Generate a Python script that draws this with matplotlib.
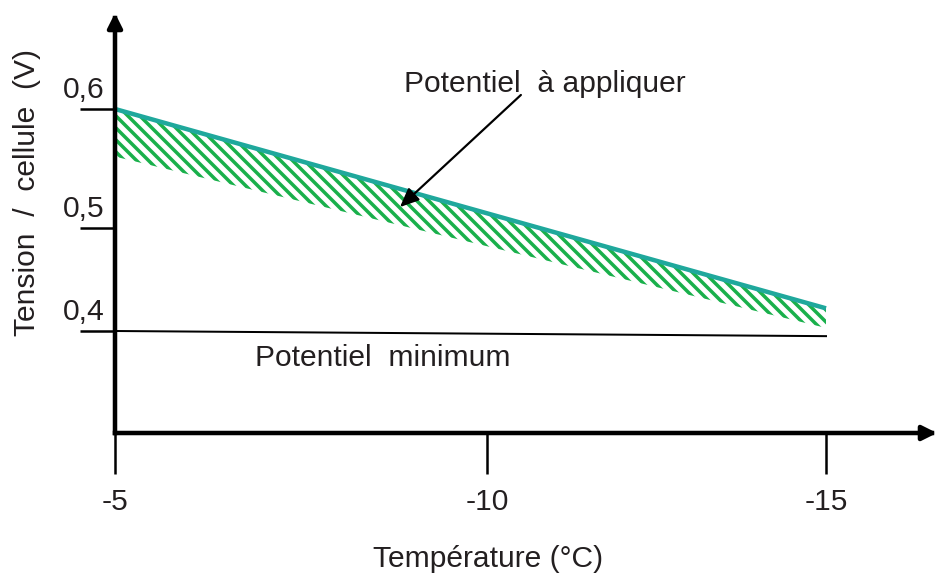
import numpy as np
import matplotlib
matplotlib.use("Agg")
import matplotlib.pyplot as plt

# temperature (°C) and cell voltage (V)
temp = [-5, -15]
applied_top = [0.600, 0.422]
applied_low = [0.560, 0.403]
minimum = [0.400, 0.395]

x_ticks = [-5, -10, -15]
x_labels = ["-5", "-10", "-15"]
y_ticks = [0.4, 0.5, 0.6]
y_labels = ["0,4", "0,5", "0,6"]

# the hand-drawn axes are not evenly spaced: pin each tick to where it sits
X_TICK_PX = [826, 487, 115]  # for -15, -10, -5
Y_TICK_PX = [331, 228, 109]  # for 0.4, 0.5, 0.6

W, H = 937, 574
TEXT = "#231f20"
TEAL = "#1fa89c"
GREEN = "#19b04b"

plt.rcParams["font.family"] = ["Liberation Sans", "DejaVu Sans"]
plt.rcParams["font.size"] = 30
plt.rcParams["hatch.linewidth"] = 3.5
plt.rcParams["hatch.color"] = GREEN


def anchored_scale(values, positions):
    """Piecewise-linear scale through the tick anchors, extended at both ends."""
    v = np.asarray(values, float)
    p = np.asarray(positions, float)
    lo = (p[1] - p[0]) / (v[1] - v[0])
    hi = (p[-1] - p[-2]) / (v[-1] - v[-2])
    v_ext = np.r_[v[0] - 100, v, v[-1] + 100]
    p_ext = np.r_[p[0] - 100 * lo, p, p[-1] + 100 * hi]
    return (lambda a: np.interp(a, v_ext, p_ext),
            lambda a: np.interp(a, p_ext, v_ext))


fig = plt.figure(figsize=(W / 72, H / 72), dpi=72)
ax = fig.add_axes([115 / W, (H - 433) / H, (W - 115) / W, (433 - 13) / H])

x_fwd, x_inv = anchored_scale(x_ticks[::-1], [-p for p in X_TICK_PX])
y_fwd, y_inv = anchored_scale(y_ticks, [-p for p in Y_TICK_PX])
ax.set_xscale("function", functions=(x_fwd, x_inv))
ax.set_yscale("function", functions=(y_fwd, y_inv))
ax.set_xlim(-5, float(x_inv(-W)))
ax.set_ylim(float(y_inv(-433)), float(y_inv(-13)))

# hatched band of the applied potential
ax.fill_between(temp, applied_low, applied_top, facecolor="none",
                edgecolor=GREEN, linewidth=0, hatch="\\\\")
ax.plot(temp, applied_top, color=TEAL, lw=4.5, solid_capstyle="butt")
ax.plot(temp, minimum, color="black", lw=2)

# axes with arrow heads
for end in [(1, 0), (0, 1)]:
    ax.annotate("", xy=end, xytext=(0, 0), xycoords="axes fraction",
                annotation_clip=False,
                arrowprops=dict(arrowstyle="-|>,head_length=0.6,head_width=0.3",
                                lw=4.5, color="black", shrinkA=0, shrinkB=0,
                                mutation_scale=20, capstyle="projecting"))
for s in ax.spines.values():
    s.set_visible(False)

ax.set_xticks(x_ticks, labels=x_labels)
ax.set_yticks(y_ticks)
ax.tick_params(axis="x", direction="out", length=41, width=2.5, pad=14,
               colors="black", labelcolor=TEXT)
ax.tick_params(axis="y", direction="out", length=35, width=2.5,
               labelleft=False, colors="black")
ax.minorticks_off()

for v, lab in zip(y_ticks, y_labels):
    ax.annotate(lab, xy=(0, v), xycoords=("axes fraction", "data"),
                xytext=(-10, 11), textcoords="offset pixels",
                ha="right", va="baseline", color=TEXT, annotation_clip=False)

# annotations
ax.text(-8.88, 0.6143, "Potentiel  à appliquer", ha="left", va="baseline",
        color=TEXT, clip_on=False)
ax.annotate("", xy=(-8.83, 0.5176), xytext=(-10.50, 0.6118),
            arrowprops=dict(arrowstyle="-|>,head_length=0.8,head_width=0.35",
                            lw=2.2, color="black", shrinkA=0, shrinkB=0,
                            mutation_scale=20))
ax.text(-6.88, 0.366, "Potentiel  minimum", ha="left", va="baseline", color=TEXT)

fig.text(373 / W, 1 - 567 / H, "Température (°C)", ha="left", va="baseline",
         color=TEXT)
fig.text(35 / W, 1 - 193 / H, "Tension  /  cellule  (V)", rotation=90,
         rotation_mode="anchor", ha="center", va="baseline", color=TEXT)

fig.savefig("out.png", dpi=72)
